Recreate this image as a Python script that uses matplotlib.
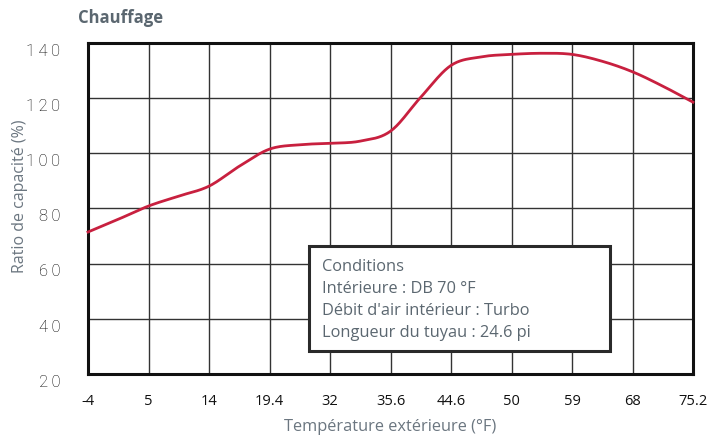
import numpy as np
import matplotlib.pyplot as plt

# outdoor temperature categories (evenly spaced on the chart)
temps = ["-4", "5", "14", "19.4", "32", "35.6", "44.6", "50", "59", "68", "75.2"]
# capacity ratio read at each category and halfway between them
pos = np.arange(0, 10.5, 0.5)
ratio = [71.4, 76.0, 80.8, 84.4, 88.0, 95.2, 101.4, 103.0, 103.5, 104.3,
         107.9, 120.2, 131.7, 134.8, 135.7, 136.1, 135.7, 133.2, 129.4, 124.2, 118.4]
yticks = [20, 40, 60, 80, 100, 120, 140]
cond_lines = ["Conditions", "Intérieure : DB 70 °F",
              "Débit d'air intérieur : Turbo", "Longueur du tuyau : 24.6 pi"]


def smooth(x, y, n=20):
    # catmull-rom through the read points, just for drawing
    x = np.asarray(x, float); y = np.asarray(y, float)
    px = np.r_[2*x[0]-x[1], x, 2*x[-1]-x[-2]]
    py = np.r_[2*y[0]-y[1], y, 2*y[-1]-y[-2]]
    xs, ys = [], []
    t = np.linspace(0, 1, n, endpoint=False)
    for i in range(1, len(px) - 2):
        for p, out in ((px, xs), (py, ys)):
            p0, p1, p2, p3 = p[i-1], p[i], p[i+1], p[i+2]
            out.extend(0.5*((2*p1) + (-p0+p2)*t + (2*p0-5*p1+4*p2-p3)*t**2
                            + (-p0+3*p1-3*p2+p3)*t**3))
    xs.append(x[-1]); ys.append(y[-1])
    return np.array(xs), np.array(ys)


fig = plt.figure(figsize=(7.24, 4.39), dpi=100)
ax = fig.add_axes([88/724, 1-375/439, (693-88)/724, (375-43.5)/439])

ax.set_xlim(0, len(temps) - 1)
ax.set_ylim(20, 140)
ax.set_xticks(range(len(temps)))
ax.set_xticklabels(temps, fontfamily="Open Sans", fontsize=10.5, color="#111111")
ax.set_yticks(yticks)
ax.set_yticklabels(["\u2009".join(str(v)) for v in yticks], fontfamily=["Roboto", "DejaVu Sans"],
                   fontweight="light", fontsize=12, color="#000000")
for lab in ax.get_yticklabels():
    lab.set_va("top")
ax.tick_params(axis="x", length=0, pad=14)
ax.tick_params(axis="y", length=0, pad=20)
ax.grid(True, color="#333333", lw=1.0)
ax.set_axisbelow(True)
for s in ax.spines.values():
    s.set_linewidth(2.2)
    s.set_color("#111111")

sx, sy = smooth(pos, ratio)
ax.plot(sx, sy, color="#c8203f", lw=2.0, clip_on=False, zorder=3)

ax.set_xlabel("Température extérieure (°F)", fontfamily="Open Sans", fontsize=11.8,
              color="#6b7680", labelpad=7)
ax.set_ylabel("Ratio de capacité (%)", fontfamily="Open Sans", fontsize=11.5,
              color="#6b7680")
ax.yaxis.set_label_coords((28 - 88) / 605, 0.54)

fig.text(78/724, 1-18/439, "Chauffage", fontfamily="Open Sans", fontweight="bold",
         fontsize=12, color="#5b6770", va="center", ha="left")

# conditions box
bx0, by0, bx1, by1 = 309/724, 1-352/439, 610/724, 1-247/439
fig.patches.append(plt.Rectangle((bx0, by0), bx1-bx0, by1-by0, transform=fig.transFigure,
                                 facecolor="white", edgecolor="#2a2a2a", lw=2.2, zorder=5))
for i, line in enumerate(cond_lines):
    fig.text(322/724, 1-(267 + 22*i)/439, line, fontfamily="Open Sans", fontsize=11.8,
             color="#5b6770", va="center", ha="left", zorder=6)

fig.savefig("out.png", dpi=100)
